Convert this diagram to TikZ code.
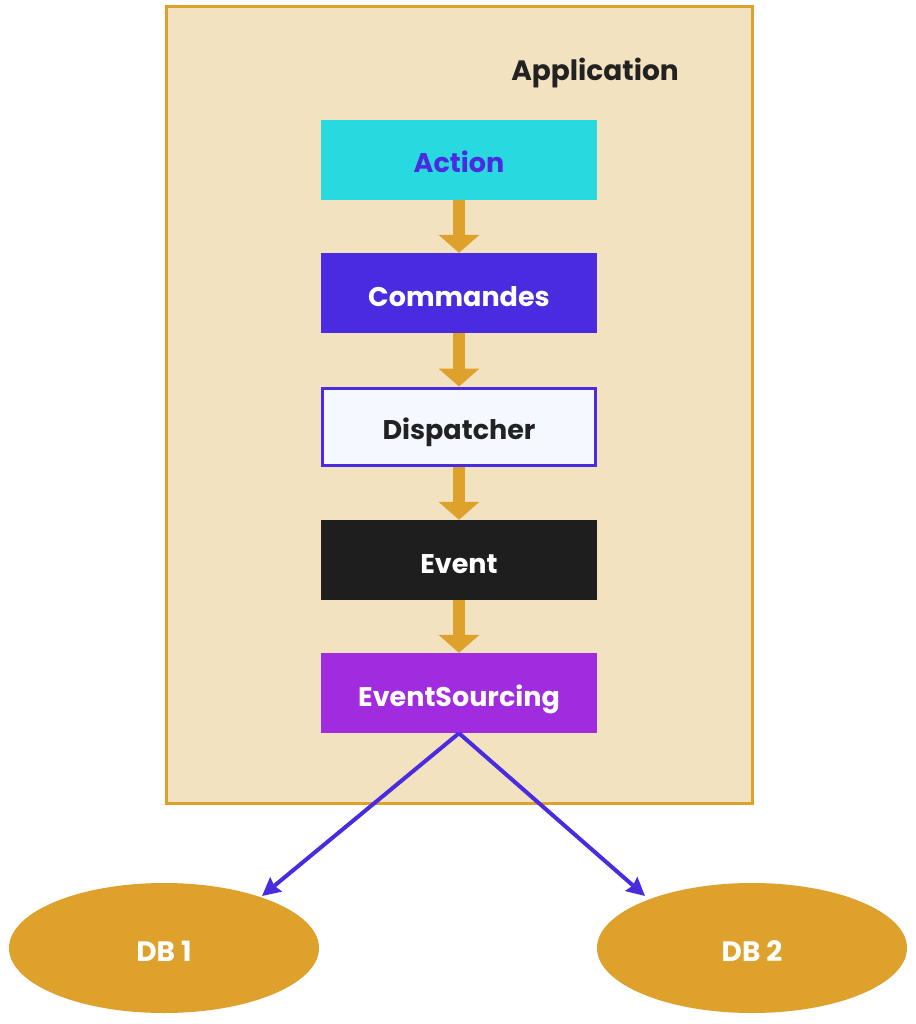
\documentclass[tikz,border=0pt]{standalone}
\usepackage{fontspec}
\setmainfont{Poppins}
\usetikzlibrary{arrows.meta,shapes.geometric}
\definecolor{appfill}{HTML}{F2E2C0}
\definecolor{gold}{HTML}{DDA12C}
\definecolor{cyanbox}{HTML}{29D9E0}
\definecolor{violet}{HTML}{4A2BDF}
\definecolor{dispfill}{HTML}{F5F8FE}
\definecolor{darkbox}{HTML}{1E1E1E}
\definecolor{purplebox}{HTML}{A02BDF}
\definecolor{ink}{HTML}{222222}
\newcommand{\lowtxt}[1]{\raisebox{-6pt}[20pt][6pt]{#1}}
\tikzset{
  stepbox/.style={rectangle, minimum width=276pt, minimum height=80pt, inner sep=0pt,
    font=\fontsize{27}{32}\selectfont\bfseries},
  flow/.style={draw=gold, line width=12pt, -{Triangle[width=40pt,length=18pt]}},
  dbnode/.style={ellipse, fill=gold, minimum width=310pt, minimum height=130pt, inner sep=0pt,
    text=white, font=\fontsize{28}{32}\selectfont\bfseries},
  link/.style={draw=violet, line width=4pt, -{Stealth[length=18pt,width=18pt,inset=2pt]}},
}
\begin{document}
\begin{tikzpicture}[x=1pt,y=-1pt]
\useasboundingbox (0,0) rectangle (915,1024);
\fill[white] (0,0) rectangle (915,1024);
\node[draw=gold, fill=appfill, line width=3pt, minimum width=586pt, minimum height=796pt, inner sep=0pt] (app) at (459,405) {};
\node[font=\fontsize{28}{32}\selectfont\bfseries, text=ink] (apptitle) at (595,68) {\lowtxt{Application}};
\node[stepbox, fill=cyanbox, text=violet] (action) at (459,160) {\lowtxt{Action}};
\node[stepbox, fill=violet, text=white] (cmd) at (459,293) {\lowtxt{Commandes}};
\node[stepbox, fill=dispfill, draw=violet, line width=3pt, minimum width=273pt, minimum height=77pt, text=ink] (disp) at (459,426.5) {\lowtxt{Dispatcher}};
\node[stepbox, fill=darkbox, text=white] (event) at (459,560) {\lowtxt{Event}};
\node[stepbox, fill=purplebox, text=white] (es) at (459,693) {\lowtxt{EventSourcing}};
\draw[flow] (action.south) -- (cmd.north);
\draw[flow] (cmd.south) -- (disp.north);
\draw[flow] (disp.south) -- (event.north);
\draw[flow] (event.south) -- (es.north);
\node[dbnode] (db1) at (164,948) {\lowtxt{DB 1}};
\node[dbnode] (db2) at (752,948) {\lowtxt{DB 2}};
\coordinate (t1) at (262,896);
\coordinate (t2) at (645,896);
\draw[link] (es.south) -- (t1);
\draw[link] (es.south) -- (t2);
\end{tikzpicture}
\end{document}
